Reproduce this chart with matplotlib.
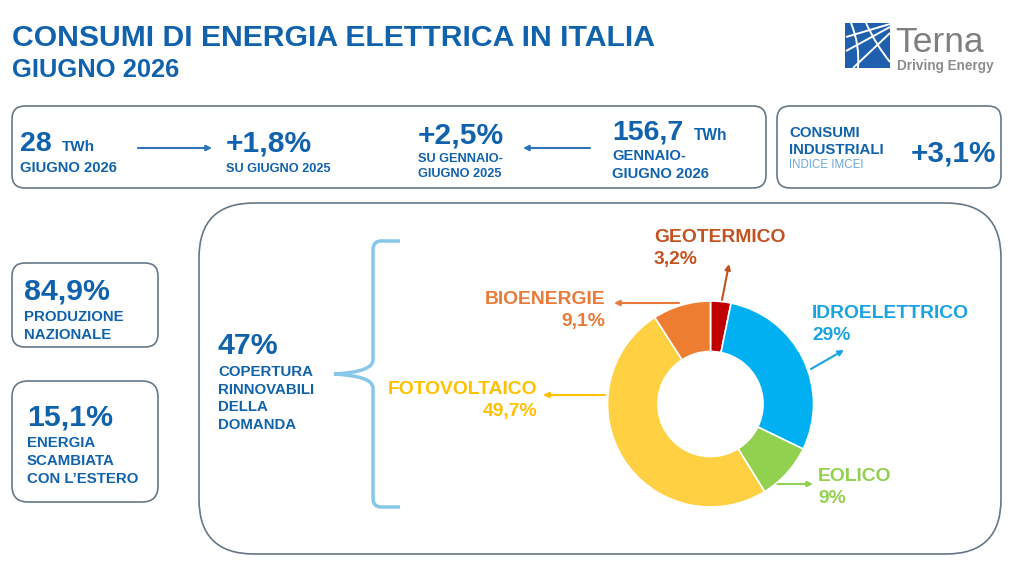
import matplotlib
matplotlib.use('Agg')
import matplotlib.pyplot as plt
from matplotlib.patches import FancyBboxPatch, PathPatch, Rectangle
from matplotlib.path import Path

plt.rcParams['font.family'] = ['Liberation Sans', 'DejaVu Sans']

# --- dati ---
mese = 'GIUGNO 2026'
consumo_mese_twh = 28
var_mese = 1.8
var_progressiva = 2.5
consumo_progressivo_twh = 156.7
var_imcei = 3.1
produzione_nazionale = 84.9
scambio_estero = 15.1
copertura_rinnovabili = 47

fonti = ['GEOTERMICO', 'IDROELETTRICO', 'EOLICO', 'FOTOVOLTAICO', 'BIOENERGIE']
quote = [3.2, 29, 9, 49.7, 9.1]
colori_fette = ['#C00000', '#00B0F0', '#92D050', '#FFD042', '#ED7D31']
colori_testo = ['#C3521F', '#1AA3E3', '#92D050', '#FFC000', '#E97A3A']

BLU = '#1062AD'
BORDO = '#667887'


def it(v, segno=False):
    s = f'{v:g}'.replace('.', ',')
    return ('+' if segno else '') + s


fig = plt.figure(figsize=(10.24, 5.76), dpi=100)
bg = fig.add_axes([0, 0, 1, 1])
bg.set_xlim(0, 1024)
bg.set_ylim(576, 0)
bg.axis('off')


def box(x0, y0, x1, y1, r):
    bg.add_patch(FancyBboxPatch((x0, y0), x1 - x0, y1 - y0,
                                boxstyle=f'round,pad=0,rounding_size={r}',
                                fc='white', ec=BORDO, lw=1.2))


def txt(x, y, s, size, color=BLU, weight='bold', ha='left'):
    bg.text(x, y, s, fontsize=size, color=color, fontweight=weight,
            ha=ha, va='baseline')


def freccia(x0, y0, x1, y1, color):
    bg.annotate('', xy=(x1, y1), xytext=(x0, y0),
                arrowprops=dict(arrowstyle='-|>', color=color, lw=1.5,
                                mutation_scale=8, shrinkA=0, shrinkB=0))


# titolo
txt(12, 46, 'CONSUMI DI ENERGIA ELETTRICA IN ITALIA', 21.7)
txt(12, 77, mese, 18.4)

# logo Terna
bg.add_patch(Rectangle((845, 23), 45, 45, fc='#1F5FAD', ec='none'))
for (xa, ya, xb, yb) in [(890, 24, 846, 37), (890, 27, 846, 51), (890, 33, 853, 68)]:
    bg.plot([xa, xb], [ya, yb], color='white', lw=1.4, solid_capstyle='butt')
for (xa, ya, xc, yc, xb, yb) in [(851, 23, 860, 45, 858, 68), (866, 23, 876, 45, 890, 62)]:
    bg.add_patch(PathPatch(Path([(xa, ya), (xc, yc), (xb, yb)],
                                [Path.MOVETO, Path.CURVE3, Path.CURVE3]),
                           fc='none', ec='white', lw=1.4))
txt(895, 52, 'Terna', 25.5, color='#7F7F7F', weight='normal')
txt(897, 70, 'Driving Energy', 9.8, color='#8C8C8C', weight='bold')

# riquadro consumi
box(12, 106, 766, 188, 13)
box(777, 106, 1001, 188, 13)

txt(20, 151, it(consumo_mese_twh), 20.5)
txt(62, 151, 'TWh', 11)
txt(20, 172, mese, 10.6)
freccia(138, 148, 212, 148, '#2E75B6')
txt(226, 152, it(var_mese, True) + '%', 21.6)
txt(226, 172, 'SU GIUGNO 2025', 9.2)

txt(418, 144, it(var_progressiva, True) + '%', 21.6)
txt(418, 162, 'SU GENNAIO-', 9.2)
txt(418, 177, 'GIUGNO 2025', 9.2)
freccia(590, 148, 523, 148, '#2E75B6')
txt(612, 140, it(consumo_progressivo_twh), 20.5)
txt(694, 140, 'TWh', 11.2)
txt(612, 160, 'GENNAIO-', 10.6)
txt(612, 178, mese, 10.6)

txt(789, 137, 'CONSUMI', 10.8)
txt(789, 154, 'INDUSTRIALI', 10.8)
txt(789, 168, 'INDICE IMCEI', 8.3, color='#6AA6DA', weight='normal')
txt(911, 162, it(var_imcei, True) + '%', 21.4)

# riquadri a sinistra
box(12, 263, 158, 347, 13)
txt(24, 299, it(produzione_nazionale) + '%', 21.8)
txt(24, 321, 'PRODUZIONE', 10.8)
txt(24, 339, 'NAZIONALE', 10.8)

box(12, 381, 158, 502, 16)
txt(27, 426, it(scambio_estero) + '%', 21.8)
txt(27, 447, 'ENERGIA', 10.8)
txt(27, 465, 'SCAMBIATA', 10.8)
txt(27, 483, 'CON L\u2019ESTERO', 10.8)

# riquadro rinnovabili
box(199, 203, 1001, 554, 55)
txt(218, 354, f'{copertura_rinnovabili}%', 21.8)
for i, riga in enumerate(['COPERTURA', 'RINNOVABILI', 'DELLA', 'DOMANDA']):
    txt(218, 376 + i * 17.7, riga, 10.8)

# parentesi graffa
verts = [(400, 241), (381, 241), (373, 241), (373, 250), (373, 360),
         (373, 372), (334, 374), (373, 376), (373, 388), (373, 498),
         (373, 507), (381, 507), (400, 507)]
codes = [Path.MOVETO, Path.LINETO, Path.CURVE3, Path.CURVE3, Path.LINETO,
         Path.CURVE3, Path.CURVE3, Path.CURVE3, Path.CURVE3, Path.LINETO,
         Path.CURVE3, Path.CURVE3, Path.LINETO]
bg.add_patch(PathPatch(Path(verts, codes), fc='none', ec='#86C7EA', lw=2.5))

# ciambella
cx, cy, r = 710.5, 404, 103
pie_ax = fig.add_axes([(cx - r) / 1024, (576 - cy - r) / 576, 2 * r / 1024, 2 * r / 576])
pie_ax.pie(quote, colors=colori_fette, startangle=90, counterclock=False, radius=1,
           wedgeprops=dict(width=0.49, edgecolor='white', linewidth=1.2))
pie_ax.set_xlim(-1, 1)
pie_ax.set_ylim(-1, 1)
pie_ax.axis('off')

# etichette: (x testo, y nome, y valore, allineamento, inizio freccia, fine freccia)
etichette = {
    'GEOTERMICO': (654, 242, 264, 'left', (722, 300), (729, 264)),
    'IDROELETTRICO': (812, 318, 340, 'left', (811, 369), (844, 350)),
    'EOLICO': (818, 481, 503, 'left', (777, 484), (813, 484)),
    'FOTOVOLTAICO': (537, 394, 416, 'right', (605, 395), (543, 395)),
    'BIOENERGIE': (605, 304, 326, 'right', (679, 303), (614, 303)),
}
for nome, q, c in zip(fonti, quote, colori_testo):
    x, y1, y2, ha, a0, a1 = etichette[nome]
    txt(x, y1, nome, 13.9, color=c, ha=ha)
    txt(x, y2, it(q) + '%', 13.9, color=c, ha=ha)
    freccia(a0[0], a0[1], a1[0], a1[1], c)

fig.savefig('out.png', dpi=100)
